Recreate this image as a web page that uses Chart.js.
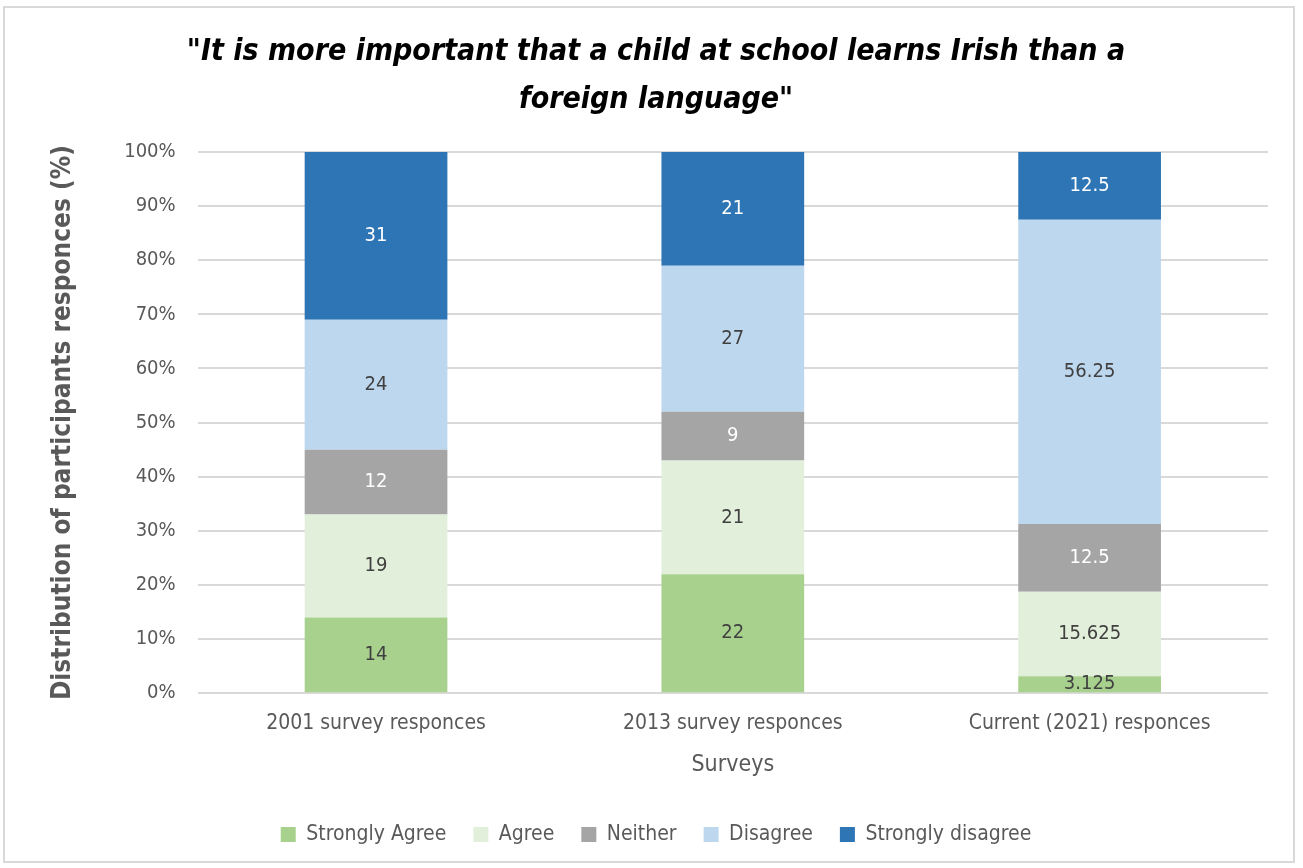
<!DOCTYPE html>
<html>
<head>
<meta charset="utf-8">
<script src="https://cdn.jsdelivr.net/npm/chart.js@4/dist/chart.umd.min.js"></script>
<style>
  html, body { margin: 0; padding: 0; background: #ffffff; }
  #frame {
    position: absolute; left: 3px; top: 6px; width: 1292px; height: 857px;
    border: 2px solid #D9D9D9; box-sizing: border-box; background: #fff;
  }
  #wrap { position: absolute; left: 0; top: 0; width: 1288px; height: 853px; }
</style>
</head>
<body>
<div id="frame"><div id="wrap"><canvas id="chart"></canvas></div></div>
<script>
const FONT = "'Liberation Sans Narrow', 'DejaVu Sans Condensed', 'Open Sans', sans-serif";

const surveys = ['2001 survey responces', '2013 survey responces', 'Current (2021) responces'];
const strongAgree    = [14, 22, 3.125];
const agree          = [19, 21, 15.625];
const neither        = [12, 9, 12.5];
const disagree       = [24, 27, 56.25];
const strongDisagree = [31, 21, 12.5];
const yTicks = [0, 10, 20, 30, 40, 50, 60, 70, 80, 90, 100];

const seriesDefs = [
  { label: 'Strongly Agree',    data: strongAgree,    color: '#A9D18E', text: '#404040' },
  { label: 'Agree',             data: agree,          color: '#E2EFDA', text: '#404040' },
  { label: 'Neither',           data: neither,        color: '#A5A5A5', text: '#ffffff' },
  { label: 'Disagree',          data: disagree,       color: '#BDD7EE', text: '#404040' },
  { label: 'Strongly disagree', data: strongDisagree, color: '#2E75B6', text: '#ffffff' }
];

// Writes each segment's value in the middle of its bar piece
const segmentLabels = {
  id: 'segmentLabels',
  afterDatasetsDraw(chart) {
    const ctx = chart.ctx;
    ctx.save();
    ctx.font = '20px ' + FONT;
    ctx.textAlign = 'center';
    ctx.textBaseline = 'middle';
    chart.data.datasets.forEach((ds, i) => {
      const meta = chart.getDatasetMeta(i);
      meta.data.forEach((el, j) => {
        const v = ds.data[j];
        ctx.fillStyle = ds.labelColor;
        ctx.fillText(String(v), el.x, (el.y + el.base) / 2);
      });
    });
    ctx.restore();
  }
};

new Chart(document.getElementById('chart'), {
  type: 'bar',
  data: {
    labels: surveys,
    datasets: seriesDefs.map(s => ({
      label: s.label,
      data: s.data,
      backgroundColor: s.color,
      borderWidth: 0,
      labelColor: s.text,
      categoryPercentage: 1.0,
      barPercentage: 0.4
    }))
  },
  options: {
    responsive: true,
    maintainAspectRatio: false,
    animation: false,
    layout: { padding: { left: 39, right: 25, top: 10, bottom: 6 } },
    plugins: {
      title: {
        display: true,
        text: ['"It is more important that a child at school learns Irish than a', 'foreign language"'],
        color: '#000000',
        font: { family: FONT, size: 30, weight: 'bold', style: 'italic', lineHeight: 1.6 },
        padding: { top: 10, bottom: 28 }
      },
      legend: {
        position: 'bottom',
        labels: {
          color: '#595959',
          font: { family: FONT, size: 21 },
          boxWidth: 15,
          boxHeight: 15,
          padding: 27
        }
      },
      tooltip: { enabled: false }
    },
    scales: {
      x: {
        stacked: true,
        grid: { display: false },
        border: { display: false },
        ticks: { color: '#595959', font: { family: FONT, size: 21 }, padding: 10 },
        title: {
          display: true, text: 'Surveys', color: '#595959',
          font: { family: FONT, size: 23 }, padding: { top: 5, bottom: 18 }
        }
      },
      y: {
        stacked: true,
        min: 0, max: 100,
        afterBuildTicks: axis => { axis.ticks = yTicks.map(v => ({ value: v })); },
        grid: { color: '#D9D9D9', lineWidth: 2, drawTicks: false },
        border: { display: false },
        ticks: {
          color: '#595959', font: { family: FONT, size: 20 }, padding: 22,
          callback: v => v + '%'
        },
        title: {
          display: true, text: 'Distribution of participants responces (%)', color: '#595959',
          font: { family: FONT, size: 26, weight: 'bold' }, padding: { bottom: 23 }
        }
      }
    }
  },
  plugins: [segmentLabels]
});
</script>
</body>
</html>
